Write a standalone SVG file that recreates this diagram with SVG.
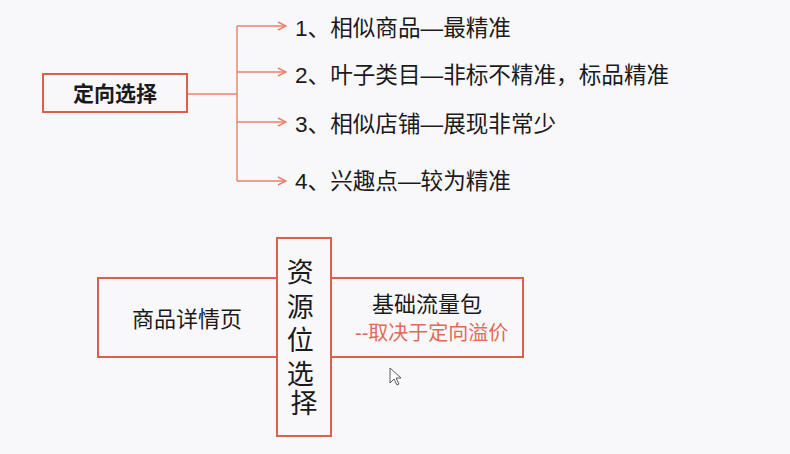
<svg xmlns="http://www.w3.org/2000/svg" width="790" height="454" viewBox="0 0 790 454">
<defs>
<style>
.box{fill:none;stroke:#d9604c;stroke-width:2}
.ln{fill:none;stroke:#e8806c;stroke-width:1.4}
.t{font-family:"Liberation Sans","Noto Sans CJK SC",sans-serif;fill:#1a1a1a}
.item{font-size:22.6px}
</style>
<marker id="arr" viewBox="0 0 10 10" refX="9" refY="5" markerWidth="10" markerHeight="10" markerUnits="userSpaceOnUse" orient="auto">
<path d="M1,1 L9,5 L1,9" fill="none" stroke="#e8806c" stroke-width="1.4"/>
</marker>
</defs>
<rect width="790" height="454" fill="#f8f8fa"/>
<g id="connectors">
<path class="ln" d="M187,94 H237"/>
<path class="ln" d="M237,26 V181"/>
<path class="ln" d="M237,26 H286" marker-end="url(#arr)"/>
<path class="ln" d="M237,72 H286" marker-end="url(#arr)"/>
<path class="ln" d="M237,122 H286" marker-end="url(#arr)"/>
<path class="ln" d="M237,181 H286" marker-end="url(#arr)"/>
</g>
<g id="node-dingxiang">
<rect class="box" x="43" y="74" width="144" height="38"/>
<text class="t" x="115" y="100.5" font-size="21" font-weight="bold" text-anchor="middle">定向选择</text>
</g>
<g id="node-item1"><text class="t item" x="295" y="36">1、相似商品—最精准</text></g>
<g id="node-item2"><text class="t item" x="295" y="82.5">2、叶子类目—非标不精准，标品精准</text></g>
<g id="node-item3"><text class="t item" x="295" y="131.5">3、相似店铺—展现非常少</text></g>
<g id="node-item4"><text class="t item" x="295" y="188.5">4、兴趣点—较为精准</text></g>
<g id="node-detail">
<rect class="box" x="98" y="278" width="179" height="79"/>
<text class="t" x="187" y="327" font-size="22" text-anchor="middle">商品详情页</text>
</g>
<g id="node-flow">
<rect class="box" x="331" y="278" width="192" height="79"/>
<text class="t" x="427" y="312" font-size="22" text-anchor="middle">基础流量包</text>
<text class="t" x="355" y="340" font-size="20" style="fill:#e06a55">--取决于定向溢价</text>
</g>
<g id="node-resource">
<rect class="box" x="277" y="238" width="54" height="198" fill="#f8f8fa"/>
<text class="t" font-size="27" text-anchor="middle">
<tspan x="304" y="282">资</tspan>
<tspan x="304" y="317">源</tspan>
<tspan x="304" y="350">位</tspan>
<tspan x="304" y="384">选</tspan>
<tspan x="304" y="413">择</tspan>
</text>
</g>
<path d="M390,368 L390,383 L394,379 L397,385 L399,384 L396,378 L401,378 Z" fill="#fff" stroke="#333" stroke-width="0.8"/>
</svg>
